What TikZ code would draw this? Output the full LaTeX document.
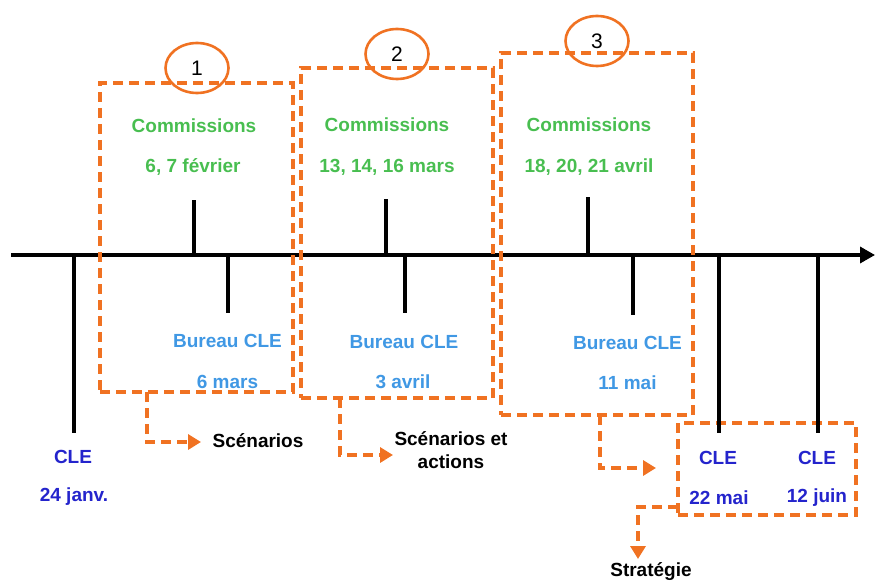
\documentclass[tikz,border=0pt]{standalone}
\usepackage{fontspec}
\setmainfont{Liberation Sans}
\usetikzlibrary{arrows.meta,shapes.geometric}
\definecolor{og}{RGB}{240,114,34}
\definecolor{gr}{RGB}{72,190,80}
\definecolor{lb}{RGB}{64,152,228}
\definecolor{db}{RGB}{36,36,204}
\begin{document}
\begin{tikzpicture}[x=1pt,y=-1pt,
  lbl/.style={font=\fontsize{19}{23}\selectfont\bfseries, inner sep=0pt, align=center},
  comm/.style={lbl, text=gr},
  bur/.style={lbl, text=lb},
  cle/.style={lbl, text=db},
  res/.style={lbl, text=black},
  dbox/.style={draw=og, line width=3.4pt, dash pattern=on 10pt off 6pt, inner sep=0pt, rectangle},
  circ/.style={draw=og, line width=2.6pt, ellipse, inner sep=0pt, minimum width=63pt, minimum height=50pt, font=\fontsize{21}{23}\selectfont},
  darr/.style={draw=og, line width=3.4pt, dash pattern=on 10pt off 6pt, -{Triangle[length=13pt,width=15pt,fill=og]}},
  tick/.style={draw=black, line width=3.4pt},
  axis/.style={draw=black, line width=3.4pt, -{Triangle[length=15pt,width=16pt]}}
]
\useasboundingbox (0,0) rectangle (875,583);

% axis
\coordinate (ax0) at (11,255);
\coordinate (ax1) at (875,255);
\draw[axis] (ax0) -- (ax1);

% dashed boxes
\node[dbox, minimum width=193pt, minimum height=309pt] (box1) at (196.5,237.5) {};
\node[dbox, minimum width=192pt, minimum height=330pt] (box2) at (397,233) {};
\node[dbox, minimum width=192pt, minimum height=362pt] (box3) at (597,234) {};
\node[dbox, minimum width=178pt, minimum height=92pt] (box4) at (767,469) {};

% circles
\node[circ] (c1) at (197,68) {1};
\node[circ] (c2) at (397,54) {2};
\node[circ] (c3) at (597,41) {3};

% ticks
\coordinate (t0a) at (74,255);  \coordinate (t0b) at (74,433);
\coordinate (t1a) at (194,200); \coordinate (t1b) at (194,255);
\coordinate (u1a) at (228,255); \coordinate (u1b) at (228,313);
\coordinate (t2a) at (386,199); \coordinate (t2b) at (386,255);
\coordinate (u2a) at (405,255); \coordinate (u2b) at (405,313);
\coordinate (t3a) at (588,197); \coordinate (t3b) at (588,255);
\coordinate (u3a) at (633,255); \coordinate (u3b) at (633,315);
\coordinate (t4a) at (719,255); \coordinate (t4b) at (719,433);
\coordinate (t5a) at (818,255); \coordinate (t5b) at (818,433);
\foreach \a/\b in {t0a/t0b,t1a/t1b,u1a/u1b,t2a/t2b,u2a/u2b,t3a/t3b,u3a/u3b,t4a/t4b,t5a/t5b}
  \draw[tick] (\a) -- (\b);

% commission labels
\node[comm] (cm1) at (194,126) {Commissions};
\node[comm] (cd1) at (193,167) {6, 7 février};
\node[comm] (cm2) at (387,125) {Commissions};
\node[comm] (cd2) at (387,167) {13, 14, 16 mars};
\node[comm] (cm3) at (589,125) {Commissions};
\node[comm] (cd3) at (589,167) {18, 20, 21 avril};

% bureau labels
\node[bur] (bu1) at (227.5,341) {Bureau CLE};
\node[bur] (bd1) at (227.5,382) {6 mars};
\node[bur] (bu2) at (404,342) {Bureau CLE};
\node[bur] (bd2) at (403,382) {3 avril};
\node[bur] (bu3) at (627.5,343) {Bureau CLE};
\node[bur] (bd3) at (627.5,383) {11 mai};

% CLE labels
\node[cle] (cl0) at (73,457) {CLE};
\node[cle] (cd0) at (74,497) {24 janv.};
\node[cle] (cl4) at (718,458) {CLE};
\node[cle] (cd4) at (719,498) {22 mai};
\node[cle] (cl5) at (817,458) {CLE};
\node[cle] (cd5) at (817,498) {12 juin};

% results
\node[res] (r1) at (258,441) {Scénarios};
\node[res] (r2) at (451,450) {Scénarios et\\actions};
\node[res] (r3) at (651,572) {Stratégie};

% dashed arrows
\coordinate (s1) at (147,392); \coordinate (e1) at (201,442);
\coordinate (s2) at (340,398); \coordinate (e2) at (393,455);
\coordinate (s3) at (600,415); \coordinate (e3) at (656,468);
\coordinate (s4) at (678,507); \coordinate (e4) at (638,559);
\draw[darr] (s1) |- (e1);
\draw[darr] (s2) |- (e2);
\draw[darr] (s3) |- (e3);
\draw[darr] (s4) -| (e4);
\end{tikzpicture}
\end{document}
